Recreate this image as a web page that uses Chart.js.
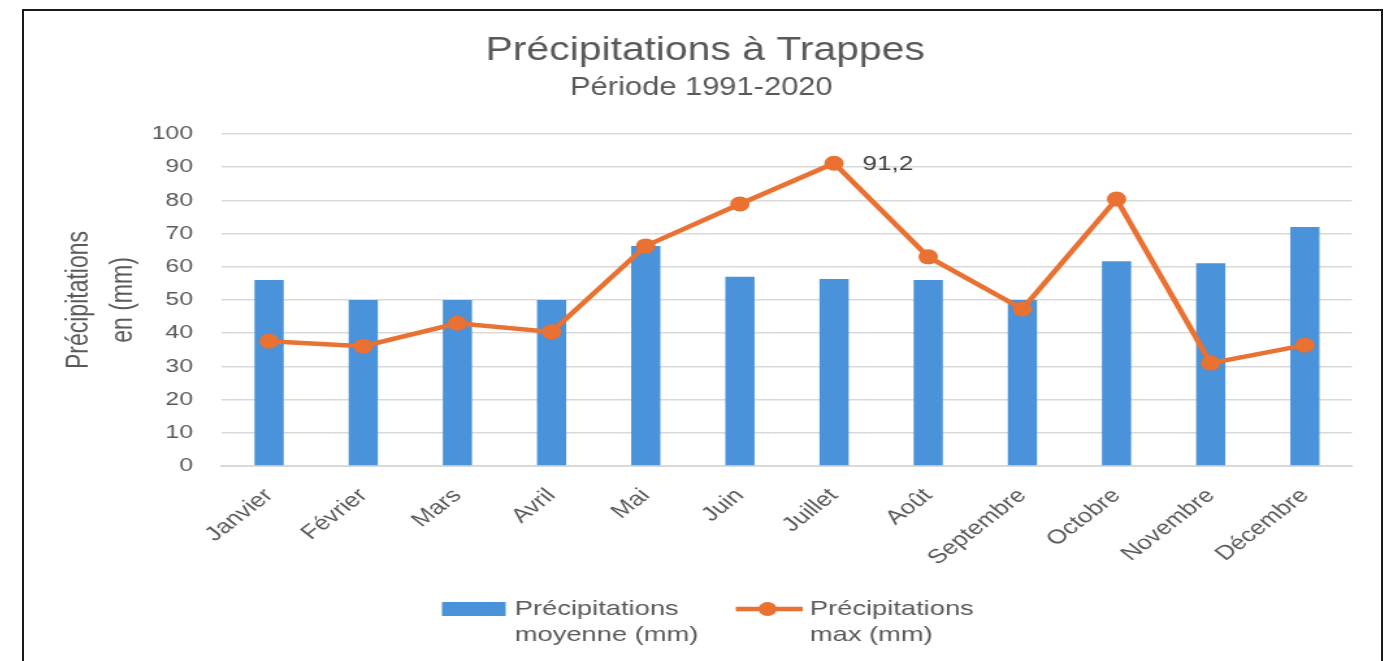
<!DOCTYPE html>
<html>
<head>
<meta charset="utf-8">
<script src="https://cdn.jsdelivr.net/npm/chart.js@4.4.1/dist/chart.umd.min.js"></script>
<style>
  html, body { margin: 0; padding: 0; background: #ffffff; overflow: hidden; }
  body { width: 1389px; height: 661px; position: relative; }
  #frame { position: absolute; left: 22px; top: 9px; width: 1361px; height: 700px; border: 2.5px solid #1a1a1a; box-sizing: border-box; }
  #wrap { position: absolute; left: 24px; top: 11px; width: 1043px; height: 650px; transform: scaleX(1.3); transform-origin: 0 0; }
</style>
</head>
<body>
<div id="frame"></div>
<div id="wrap"><canvas id="c"></canvas></div>
<script>
const categories = ['Janvier', 'Février', 'Mars', 'Avril', 'Mai', 'Juin', 'Juillet', 'Août', 'Septembre', 'Octobre', 'Novembre', 'Décembre'];
const precipMoyenne = [56, 50, 50, 50, 66.3, 57, 56.3, 56, 50, 61.7, 61.1, 72];
const precipMax = [37.6, 36.1, 43, 40.4, 66.3, 78.9, 91.2, 63, 47.3, 80.4, 31, 36.4];
const yMin = 0, yMax = 100, yStep = 10;
const titleText = 'Précipitations à Trappes';
const subtitleText = 'Période 1991-2020';
const yTitleLines = ['Précipitations', 'en (mm)'];
const legendMoyenne = ['Précipitations', 'moyenne (mm)'];
const legendMax = ['Précipitations', 'max (mm)'];

const BLUE = '#4a92d9';
const ORANGE = '#e97132';
const GRAY = '#595959';
const FONT = "'Liberation Sans', Arial, sans-serif";

function drawCondensed(ctx, text, cx, cy, size, targetWidth) {
  ctx.save();
  ctx.font = size + 'px ' + FONT;
  const w = ctx.measureText(text).width;
  const sx = Math.min(1, targetWidth / w);
  ctx.translate(cx, cy);
  ctx.scale(sx, 1);
  ctx.textAlign = 'center';
  ctx.textBaseline = 'middle';
  ctx.fillStyle = GRAY;
  ctx.fillText(text, 0, 0);
  ctx.restore();
}

const extras = {
  id: 'extras',
  afterDatasetsDraw(chart) {
    const ctx = chart.ctx;
    const meta = chart.getDatasetMeta(1);
    let iMax = 0;
    precipMax.forEach((v, i) => { if (v > precipMax[iMax]) iMax = i; });
    const pt = meta.data[iMax];
    ctx.save();
    ctx.font = '20px ' + FONT;
    ctx.fillStyle = '#404040';
    ctx.textAlign = 'left';
    ctx.textBaseline = 'middle';
    ctx.fillText(String(precipMax[iMax]).replace('.', ','), pt.x + 22, pt.y + 1);
    ctx.restore();
  },
  afterDraw(chart) {
    const ctx = chart.ctx;
    // titles
    drawCondensed(ctx, titleText, 524, 40, 34, 338);
    drawCondensed(ctx, subtitleText, 521, 77, 25, 202);
    // legend
    const ly = chart.chartArea.bottom + 143;
    ctx.save();
    ctx.fillStyle = BLUE;
    ctx.fillRect(321.5, ly - 7, 49, 14);
    ctx.font = '21px ' + FONT;
    ctx.fillStyle = GRAY;
    ctx.textAlign = 'left';
    ctx.textBaseline = 'middle';
    ctx.fillText(legendMoyenne[0], 377.5, ly);
    ctx.fillText(legendMoyenne[1], 377.5, ly + 26);
    ctx.strokeStyle = ORANGE;
    ctx.lineWidth = 4.5;
    ctx.beginPath();
    ctx.moveTo(547.5, ly);
    ctx.lineTo(599, ly);
    ctx.stroke();
    ctx.fillStyle = ORANGE;
    ctx.beginPath();
    ctx.arc(572, ly, 7, 0, Math.PI * 2);
    ctx.fill();
    ctx.fillStyle = GRAY;
    ctx.fillText(legendMax[0], 604.5, ly);
    ctx.fillText(legendMax[1], 604.5, ly + 26);
    ctx.restore();
  }
};

new Chart(document.getElementById('c'), {
  data: {
    labels: categories,
    datasets: [
      {
        type: 'bar',
        label: legendMoyenne.join(' '),
        data: precipMoyenne,
        backgroundColor: BLUE,
        barPercentage: 0.31,
        categoryPercentage: 1.0,
        order: 2
      },
      {
        type: 'line',
        label: legendMax.join(' '),
        data: precipMax,
        borderColor: ORANGE,
        backgroundColor: ORANGE,
        borderWidth: 4.5,
        pointRadius: 7.5,
        pointBackgroundColor: ORANGE,
        pointBorderWidth: 0,
        tension: 0,
        order: 1
      }
    ]
  },
  options: {
    responsive: true,
    maintainAspectRatio: false,
    animation: false,
    layout: { padding: { left: 0, right: 21.5, top: 123, bottom: 75 } },
    plugins: {
      legend: { display: false },
      tooltip: { enabled: false },
      title: { display: false },
      subtitle: { display: false }
    },
    scales: {
      x: {
        afterFit(scale) { scale.height = 120; },
        grid: { display: false, drawTicks: false },
        border: { display: true, color: '#d9d9d9', width: 2 },
        ticks: {
          color: GRAY,
          font: { family: FONT, size: 20 },
          minRotation: 45,
          maxRotation: 45,
          autoSkip: false,
          padding: 18
        }
      },
      y: {
        min: yMin,
        max: yMax,
        afterFit(scale) { scale.width = 152.3; },
        grid: { color: '#d9d9d9', lineWidth: 1.5, drawTicks: false },
        border: { display: false },
        ticks: {
          stepSize: yStep,
          color: GRAY,
          font: { family: FONT, size: 19 },
          padding: 22.3
        },
        title: {
          display: true,
          text: yTitleLines,
          color: GRAY,
          font: { family: FONT, size: 23, weight: 'normal', lineHeight: 1.48 },
          padding: { top: 26, bottom: 0 }
        }
      }
    }
  },
  plugins: [extras]
});
</script>
</body>
</html>
